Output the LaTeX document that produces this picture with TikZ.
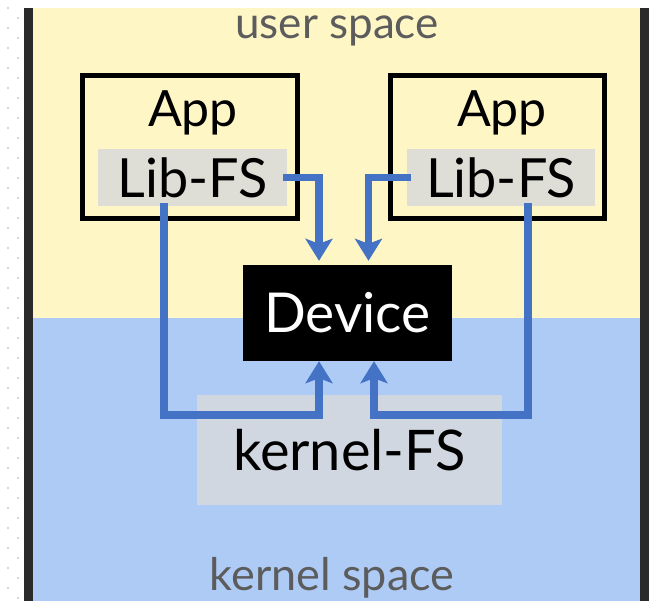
\documentclass[tikz,border=0pt]{standalone}
\usepackage{fontspec}
\setmainfont{Lato}
\usetikzlibrary{arrows.meta}
\definecolor{userbg}{HTML}{FFF6C6}
\definecolor{kernbg}{HTML}{AECBF6}
\definecolor{libgray}{HTML}{DEDED6}
\definecolor{kfsgray}{HTML}{D0D7E0}
\definecolor{flowblue}{HTML}{4472C4}
\definecolor{barcol}{HTML}{2A2A2A}
\definecolor{spacetext}{HTML}{5C5C5C}
\definecolor{dotgray}{HTML}{C8C8C8}
\begin{document}
\begin{tikzpicture}[x=1pt, y=-1pt, line join=miter,
    appbox/.style={draw, line width=5pt, minimum width=215pt, minimum height=143pt, inner sep=0pt},
    libbox/.style={fill=libgray, minimum width=189pt, minimum height=57pt, inner sep=0pt, font=\fontsize{54}{54}\selectfont},
    apptext/.style={font=\fontsize{50}{50}\selectfont, inner sep=0pt},
    spacelabel/.style={text=spacetext, inner sep=0pt},
    flow/.style={flowblue, line width=7.5pt, -{Stealth[width=27pt, length=22pt, inset=5pt]}}]
  \useasboundingbox (0,0) rectangle (653,601);
  \fill[white] (0,0) rectangle (653,601);
  \foreach \y in {8,28,...,600} \fill[dotgray] (8,\y) circle (1.2pt);
  \foreach \y in {18,38,...,600} \fill[dotgray] (18,\y) circle (1.2pt);
  % the two spaces
  \fill[userbg] (33,8) rectangle (640,318);
  \fill[kernbg] (33,318) rectangle (640,601);
  \fill[barcol] (24,8) rectangle (33,601);
  \fill[barcol] (640,8) rectangle (649,601);
  \node[spacelabel, font=\fontsize{44}{44}\selectfont] (usr) at (337,31) {user space};
  \node[spacelabel, font=\fontsize{45}{45}\selectfont] (krn) at (332,578) {kernel space};
  % apps
  \node[appbox] (box1) at (190,147) {};
  \node[appbox, minimum width=214pt] (box2) at (497.5,147) {};
  \node[apptext] (app1) at (193,113) {App};
  \node[apptext] (app2) at (502,113) {App};
  \node[libbox] (lib1) at (192.5,177.5) {Lib-FS};
  \node[libbox, minimum width=188pt] (lib2) at (501,177.5) {Lib-FS};
  \node[fill=black, text=white, minimum width=209pt, minimum height=96pt, inner sep=0pt,
        font=\fontsize{55}{55}\selectfont] (dev) at (347.5,313) {Device};
  \node[fill=kfsgray, minimum width=305pt, minimum height=110pt, inner sep=0pt,
        font=\fontsize{56}{56}\selectfont] (kfs) at (349.5,450) {kernel-FS};
  % paths to the device
  \draw[flow, shorten >=4pt] ([xshift=-4pt]lib1.east) -| ([xshift=-28.5pt]dev.north);
  \draw[flow, shorten >=4pt] ([xshift=4pt]lib2.west) -| ([xshift=21pt]dev.north);
  \draw[flow] ([xshift=-28.5pt, yshift=3pt]lib1.south) |- ([xshift=-28.5pt, yshift=-54pt]dev.south) -- ([xshift=-28.5pt]dev.south);
  \draw[flow] ([xshift=27pt, yshift=3pt]lib2.south) |- ([xshift=26.5pt, yshift=-54pt]dev.south) -- ([xshift=26.5pt]dev.south);
\end{tikzpicture}
\end{document}
